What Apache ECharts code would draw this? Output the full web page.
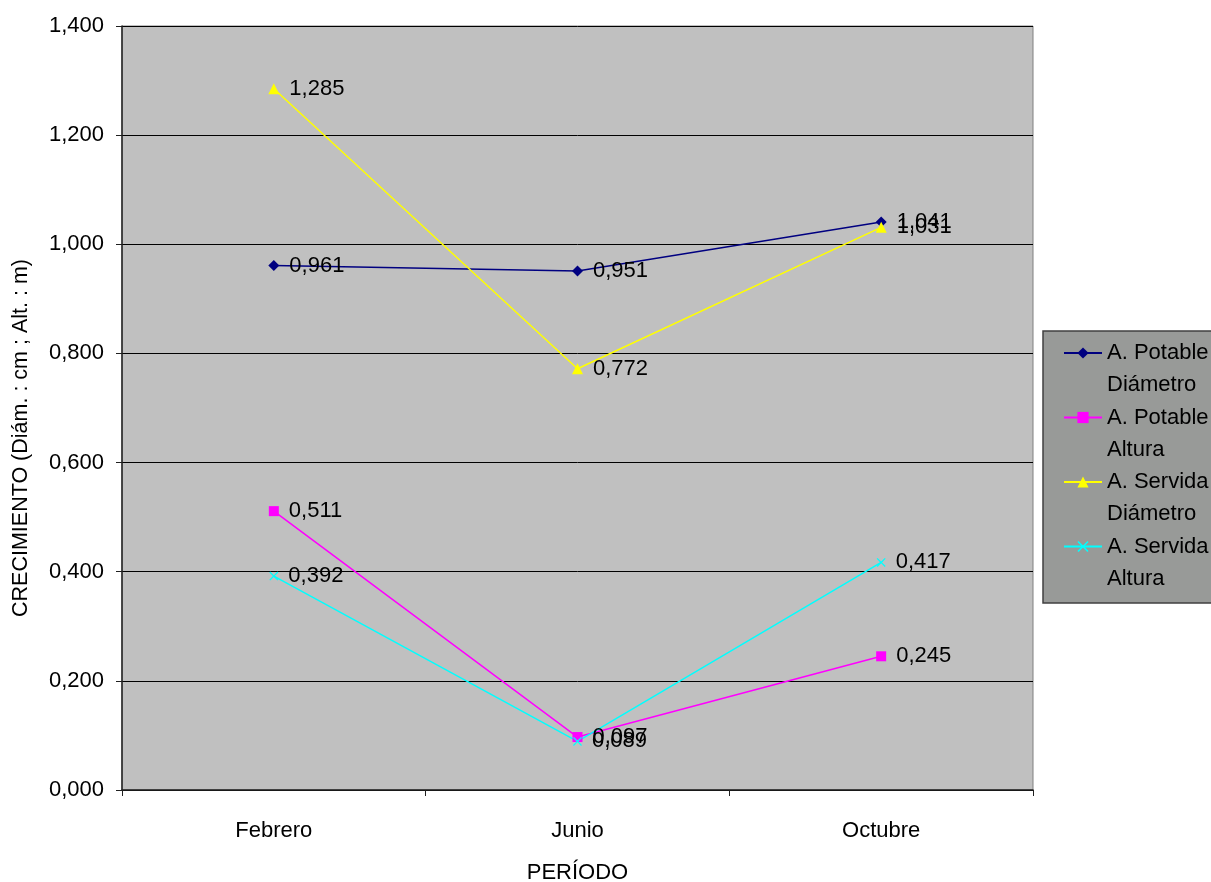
<!DOCTYPE html>
<html>
<head>
<meta charset="utf-8">
<script src="https://cdn.jsdelivr.net/npm/echarts@6/dist/echarts.min.js"></script>
<style>
  html, body { margin: 0; padding: 0; background: #ffffff; }
  #chart { width: 1211px; height: 882px; }
</style>
</head>
<body>
<div id="chart"></div>
<script>
// Periods sampled
const categories = ['Febrero', 'Junio', 'Octubre'];

// Growth per series (diameter in cm, height in m)
const potableDiametro = [0.961, 0.951, 1.041];
const potableAltura   = [0.511, 0.097, 0.245];
const servidaDiametro = [1.285, 0.772, 1.031];
const servidaAltura   = [0.392, 0.089, 0.417];

const seriesNames = [
  'A. Potable\nDiámetro',
  'A. Potable\nAltura',
  'A. Servida\nDiámetro',
  'A. Servida\nAltura'
];

const yTicks = { min: 0, max: 1.4, interval: 0.2 };

const FONT = '"Liberation Sans", Arial, sans-serif';
const fmt = v => Number(v).toFixed(3).replace('.', ',');

// thin "x" marker
const crossPath = 'path://M0,1L1,0L5,4L9,0L10,1L6,5L10,9L9,10L5,6L1,10L0,9L4,5Z';

function makeSeries(name, data, color, symbol, size) {
  return {
    name: name,
    type: 'line',
    data: data,
    symbol: symbol,
    symbolSize: size,
    lineStyle: { color: color, width: 1.5 },
    itemStyle: { color: color },
    label: {
      show: true,
      position: 'right',
      distance: 10,
      formatter: p => fmt(p.value),
      color: '#000000',
      fontFamily: FONT,
      fontSize: 22
    },
    emphasis: { disabled: true },
    animation: false
  };
}

const chart = echarts.init(document.getElementById('chart'), null, { renderer: 'canvas' });

chart.setOption({
  backgroundColor: '#ffffff',
  textStyle: { fontFamily: FONT },
  grid: {
    left: 122, right: 178, top: 26, bottom: 92,
    outerBoundsMode: 'none',
    containLabel: false,
    show: true,
    backgroundColor: '#c0c0c0',
    borderColor: '#808080',
    borderWidth: 1
  },
  graphic: [{
    type: 'rect',
    z: 0,
    shape: { x: 1043, y: 331, width: 170, height: 272 },
    style: { fill: '#989a98', stroke: '#404040', lineWidth: 1.5 }
  }],
  legend: {
    orient: 'vertical',
    left: 1063,
    top: 305,
    padding: 0,
    itemGap: -31.5,
    itemWidth: 38,
    itemHeight: 14,
    formatter: name => '\n' + name,
    textStyle: {
      color: '#000000',
      fontFamily: FONT,
      fontSize: 22,
      lineHeight: 32
    },
    data: seriesNames,
    selectedMode: false,
    z: 5
  },
  xAxis: {
    type: 'category',
    data: categories,
    boundaryGap: true,
    axisLine: { lineStyle: { color: '#202020', width: 1.5 } },
    axisTick: { show: true, length: 6, lineStyle: { color: '#202020' } },
    axisLabel: { color: '#000000', fontFamily: FONT, fontSize: 22, margin: 30 },
    name: 'PERÍODO',
    nameLocation: 'middle',
    nameGap: 72,
    nameTextStyle: { color: '#000000', fontFamily: FONT, fontSize: 22 }
  },
  yAxis: {
    type: 'value',
    min: yTicks.min,
    max: yTicks.max,
    interval: yTicks.interval,
    axisLine: { show: true, lineStyle: { color: '#202020', width: 1.5 } },
    axisTick: { show: true, length: 6, lineStyle: { color: '#202020' } },
    splitLine: { show: true, lineStyle: { color: '#000000', width: 1 } },
    axisLabel: { color: '#000000', fontFamily: FONT, fontSize: 22, margin: 18, formatter: v => fmt(v) },
    name: 'CRECIMIENTO (Diám. : cm ; Alt. : m)',
    nameLocation: 'middle',
    nameGap: 90,
    nameTextStyle: { color: '#000000', fontFamily: FONT, fontSize: 21.5, padding: [0, 60, 0, 0] }
  },
  series: [
    makeSeries(seriesNames[0], potableDiametro, '#000080', 'diamond', 11),
    makeSeries(seriesNames[1], potableAltura, '#ff00ff', 'rect', 10),
    makeSeries(seriesNames[2], servidaDiametro, '#ffff00', 'triangle', 11),
    makeSeries(seriesNames[3], servidaAltura, '#00ffff', crossPath, 9)
  ]
});
</script>
</body>
</html>
